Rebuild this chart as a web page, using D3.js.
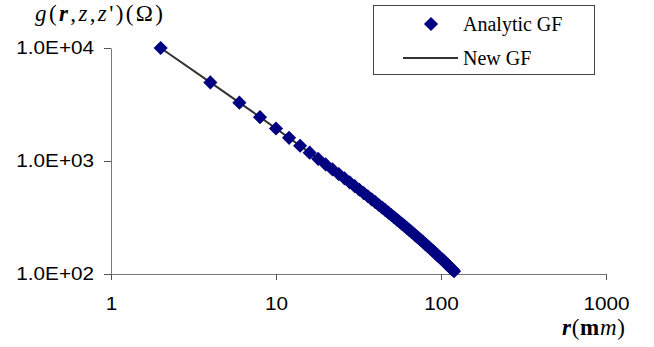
<!DOCTYPE html>
<html>
<head>
<meta charset="utf-8">
<script src="https://d3js.org/d3.v7.min.js"></script>
<style>
  body { margin: 0; background: white; }
  svg { display: block; }
</style>
</head>
<body>
<div id="viz"></div>
<script>
// Chart values
const rValues = [2, 4, 6, 8, 10, 12, 14, 16, 18, 20, 22, 24, 26, 28, 30, 32, 34, 36, 38, 40,
                 42, 44, 46, 48, 50, 52, 54, 56, 58, 60, 62, 64, 66, 68, 70, 72, 74, 76, 78, 80,
                 82, 84, 86, 88, 90, 92, 94, 96, 98, 100, 102, 104, 106, 108, 110, 112, 114, 116, 118, 120];
const analyticGF = [10000, 4962, 3283, 2443, 1940, 1604, 1364, 1185, 1045, 933,
                    842, 766, 702, 646, 599, 557, 520, 488, 458, 432,
                    408, 387, 367, 349, 333, 317, 303, 290, 278, 267,
                    256, 246, 237, 228, 220, 212, 205, 198, 192, 185,
                    179, 174, 168, 163, 159, 154, 149, 145, 141, 137,
                    134, 130, 127, 123, 120, 117, 114, 111, 109, 106];
const newGF = analyticGF.slice();
const xTicks = [1, 10, 100, 1000];
const yTicks = [100, 1000, 10000];
const yTickLabels = ['1.0E+02', '1.0E+03', '1.0E+04'];
const seriesNames = ['Analytic GF', 'New GF'];

const width = 654,
      height = 347;
const margin = { top: 48, right: 48, bottom: 73, left: 111 };
const sansFont = 'Liberation Sans, Arial, sans-serif',
      serifFont = 'Liberation Serif, Times New Roman, serif';

const svg = d3.select('#viz').append('svg')
    .attr('width', width)
    .attr('height', height)
    .style('background', 'white');

// The original picture is a bit stretched sideways
function stretch(sel, factor) {
    sel.each(function() {
        const w = this.getComputedTextLength();
        d3.select(this)
            .attr('textLength', w * factor)
            .attr('lengthAdjust', 'spacingAndGlyphs');
    });
}

// Log scales on both axes
const xScale = d3.scaleLog()
    .domain([1, 1000])
    .range([margin.left, width - margin.right]);

const yScale = d3.scaleLog()
    .domain([100, 10000])
    .range([height - margin.bottom, margin.top]);

// Horizontal axis
svg.append('g')
    .attr('transform', `translate(0, ${yScale(100)})`)
    .call(d3.axisBottom(xScale).tickValues(xTicks).tickFormat(d3.format('d')).tickSize(6).tickSizeOuter(0).tickPadding(17))
    .call(g => g.select('.domain').attr('stroke', '#777'))
    .call(g => g.selectAll('.tick line').attr('stroke', '#555'))
    .call(g => g.selectAll('text')
        .attr('font-family', sansFont)
        .attr('font-size', '18px')
        .attr('fill', 'black')
        .call(stretch, 1.15));

// Vertical axis
svg.append('g')
    .attr('transform', `translate(${xScale(1)}, 0)`)
    .call(d3.axisLeft(yScale).tickValues(yTicks).tickFormat((d, i) => yTickLabels[i]).tickSize(7).tickSizeOuter(0).tickPadding(10))
    .call(g => g.select('.domain').attr('stroke', '#777'))
    .call(g => g.selectAll('.tick line').attr('stroke', '#555'))
    .call(g => g.selectAll('text')
        .attr('font-family', sansFont)
        .attr('font-size', '18px')
        .attr('fill', 'black')
        .call(stretch, 1.15));

// New GF line
const line = d3.line()
    .x((d, i) => xScale(rValues[i]))
    .y(d => yScale(d));

svg.append('path')
    .datum(newGF)
    .attr('d', line)
    .attr('fill', 'none')
    .attr('stroke', '#333')
    .attr('stroke-width', 2);

// Analytic GF diamonds
const diamond = d3.symbol().type(d3.symbolSquare).size(100);

svg.append('g')
    .selectAll('path')
    .data(analyticGF)
    .enter().append('path')
        .attr('d', diamond)
        .attr('transform', (d, i) => `translate(${xScale(rValues[i])}, ${yScale(d)}) rotate(45)`)
        .attr('fill', '#000080');

// Axis titles
const yTitle = svg.append('text')
    .attr('x', 35)
    .attr('y', 21)
    .attr('font-family', serifFont)
    .attr('font-size', '23px')
    .attr('fill', 'black')
    .attr('textLength', 128)
    .attr('lengthAdjust', 'spacing');
yTitle.append('tspan').attr('font-style', 'italic').text('g');
yTitle.append('tspan').text('(');
yTitle.append('tspan').attr('font-style', 'italic').attr('font-weight', 'bold').text('r');
yTitle.append('tspan').text(',');
yTitle.append('tspan').attr('font-style', 'italic').text('z');
yTitle.append('tspan').text(',');
yTitle.append('tspan').attr('font-style', 'italic').text('z');
yTitle.append('tspan').text('\')(Ω)');

const xTitle = svg.append('text')
    .attr('x', 562)
    .attr('y', 335)
    .attr('font-family', serifFont)
    .attr('font-size', '23px')
    .attr('fill', 'black')
    .attr('textLength', 63)
    .attr('lengthAdjust', 'spacing');
xTitle.append('tspan').attr('font-style', 'italic').attr('font-weight', 'bold').text('r');
xTitle.append('tspan').text('(');
xTitle.append('tspan').attr('font-weight', 'bold').text('m');
xTitle.append('tspan').attr('font-style', 'italic').text('m');
xTitle.append('tspan').text(')');

// Legend
const legend = svg.append('g');

legend.append('rect')
    .attr('x', 373.5)
    .attr('y', 5.5)
    .attr('width', 221)
    .attr('height', 69)
    .attr('fill', 'white')
    .attr('stroke', '#444')
    .attr('stroke-width', 1);

legend.append('path')
    .attr('d', diamond)
    .attr('transform', 'translate(431, 24) rotate(45)')
    .attr('fill', '#000080');

legend.append('line')
    .attr('x1', 403)
    .attr('x2', 458)
    .attr('y1', 58)
    .attr('y2', 58)
    .attr('stroke', '#333')
    .attr('stroke-width', 2);

legend.selectAll('.legend-label')
    .data(seriesNames)
    .enter().append('text')
        .attr('class', 'legend-label')
        .attr('x', 463)
        .attr('y', (d, i) => i === 0 ? 31 : 65)
        .attr('font-family', serifFont)
        .attr('font-size', '20px')
        .attr('fill', 'black')
        .text(d => d);
</script>
</body>
</html>
